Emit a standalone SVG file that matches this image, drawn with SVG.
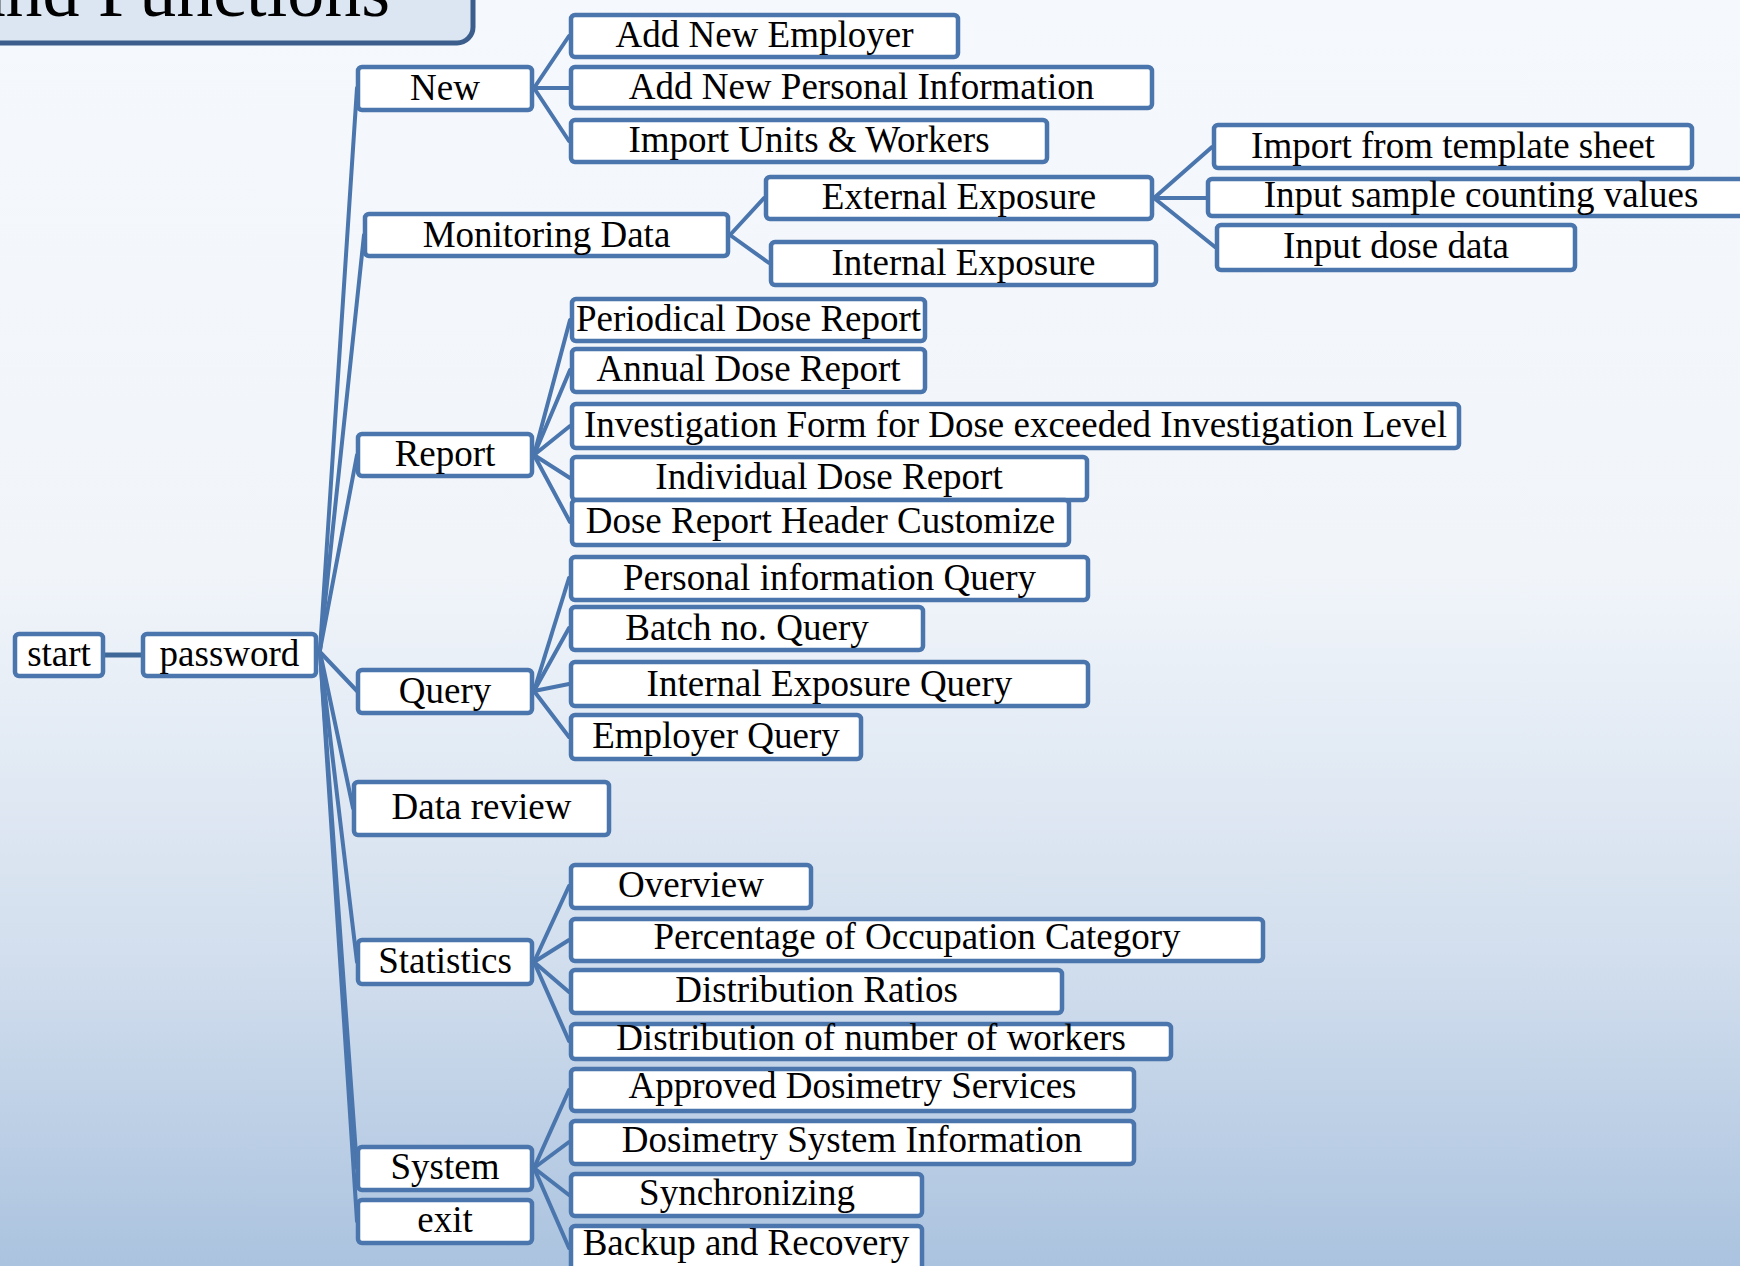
<svg xmlns="http://www.w3.org/2000/svg" width="1740" height="1266" viewBox="0 0 1740 1266">
<defs>
<linearGradient id="bg" x1="0" y1="0" x2="0" y2="1">
<stop offset="0" stop-color="#f5f8fc"/>
<stop offset="0.45" stop-color="#f1f5fa"/>
<stop offset="0.75" stop-color="#d3dfee"/>
<stop offset="1" stop-color="#abc3df"/>
</linearGradient>
<style>
.n rect{fill:#ffffff;stroke:#4a76ad;stroke-width:4.5}
.n text{font-family:"Liberation Serif","Times New Roman",serif;font-size:37px;fill:#000;text-anchor:middle}
#connectors line{stroke:#4a76ad;stroke-width:4;stroke-linecap:round}
</style>
</defs>
<rect x="0" y="0" width="1740" height="1266" fill="url(#bg)"/>
<g id="title">
<rect x="-20" y="-60" width="493" height="103" rx="16" fill="#dce6f2" stroke="#3b5e8c" stroke-width="5"/>
<text x="390" y="16" font-family="'Liberation Serif','Times New Roman',serif" font-size="74" text-anchor="end" fill="#000">and Functions</text>
</g>
<g id="connectors">
<line x1="105" y1="655" x2="141" y2="655" style="stroke:#3f6898;stroke-width:5"/>
<line x1="320" y1="650" x2="357" y2="88"/>
<line x1="320" y1="650" x2="364" y2="235"/>
<line x1="320" y1="650" x2="357" y2="455"/>
<line x1="320" y1="652" x2="357" y2="691"/>
<line x1="320" y1="652" x2="353" y2="808"/>
<line x1="320" y1="652" x2="357" y2="962"/>
<line x1="320" y1="652" x2="357" y2="1168"/>
<line x1="320" y1="652" x2="357" y2="1221"/>
<line x1="534" y1="88" x2="569" y2="36"/>
<line x1="534" y1="88" x2="569" y2="88"/>
<line x1="534" y1="88" x2="569" y2="141"/>
<line x1="730" y1="235" x2="764" y2="198"/>
<line x1="730" y1="235" x2="769" y2="263"/>
<line x1="1154" y1="198" x2="1212" y2="147"/>
<line x1="1154" y1="198" x2="1206" y2="198"/>
<line x1="1154" y1="198" x2="1215" y2="247"/>
<line x1="534" y1="455" x2="570" y2="320"/>
<line x1="534" y1="455" x2="570" y2="370"/>
<line x1="534" y1="455" x2="570" y2="426"/>
<line x1="534" y1="455" x2="570" y2="478"/>
<line x1="534" y1="455" x2="570" y2="522"/>
<line x1="534" y1="691" x2="569" y2="578"/>
<line x1="534" y1="691" x2="569" y2="628"/>
<line x1="534" y1="691" x2="569" y2="684"/>
<line x1="534" y1="691" x2="569" y2="737"/>
<line x1="534" y1="962" x2="569" y2="886"/>
<line x1="534" y1="962" x2="569" y2="940"/>
<line x1="534" y1="962" x2="569" y2="992"/>
<line x1="534" y1="962" x2="569" y2="1041"/>
<line x1="534" y1="1168" x2="569" y2="1090"/>
<line x1="534" y1="1168" x2="569" y2="1142"/>
<line x1="534" y1="1168" x2="569" y2="1195"/>
<line x1="534" y1="1168" x2="569" y2="1248"/>
</g>
<g id="start" class="n"><rect x="15" y="634" width="88" height="42" rx="4"/><text x="59" y="666">start</text></g>
<g id="password" class="n"><rect x="143" y="634" width="173" height="42" rx="4"/><text x="229.5" y="666">password</text></g>
<g id="new" class="n"><rect x="358" y="67" width="174" height="43" rx="4"/><text x="445" y="100">New</text></g>
<g id="monitoring" class="n"><rect x="365" y="214" width="363" height="42" rx="4"/><text x="546.5" y="246.5">Monitoring Data</text></g>
<g id="report" class="n"><rect x="358" y="434" width="174" height="42" rx="4"/><text x="445" y="466">Report</text></g>
<g id="query" class="n"><rect x="358" y="670" width="174" height="43" rx="4"/><text x="445" y="703">Query</text></g>
<g id="datareview" class="n"><rect x="354" y="782" width="255" height="53" rx="4"/><text x="481.5" y="819">Data review</text></g>
<g id="statistics" class="n"><rect x="358" y="940" width="174" height="44" rx="4"/><text x="445" y="973">Statistics</text></g>
<g id="system" class="n"><rect x="358" y="1147" width="174" height="43" rx="4"/><text x="445" y="1179">System</text></g>
<g id="exit" class="n"><rect x="358" y="1200" width="174" height="43" rx="4"/><text x="445" y="1232">exit</text></g>
<g id="addemployer" class="n"><rect x="571" y="15" width="387" height="42" rx="4"/><text x="764.5" y="47">Add New Employer</text></g>
<g id="addpersonal" class="n"><rect x="571" y="67" width="581" height="41" rx="4"/><text x="861.5" y="99">Add New Personal Information</text></g>
<g id="importunits" class="n"><rect x="571" y="120" width="476" height="42" rx="4"/><text x="809" y="152">Import Units &amp; Workers</text></g>
<g id="external" class="n"><rect x="766" y="177" width="386" height="42" rx="4"/><text x="959" y="208.5">External Exposure</text></g>
<g id="internal" class="n"><rect x="771" y="242" width="385" height="43" rx="4"/><text x="963.5" y="274.5">Internal Exposure</text></g>
<g id="importtemplate" class="n"><rect x="1214" y="125" width="478" height="43" rx="4"/><text x="1453" y="157.5">Import from template sheet</text></g>
<g id="inputsample" class="n"><rect x="1208" y="179" width="560" height="37" rx="4"/><text x="1481" y="207">Input sample counting values</text></g>
<g id="inputdose" class="n"><rect x="1217" y="225" width="358" height="45" rx="4"/><text x="1396" y="257.5">Input dose data</text></g>
<g id="periodical" class="n"><rect x="572" y="299" width="353" height="42" rx="4"/><text x="748.5" y="330.5">Periodical Dose Report</text></g>
<g id="annual" class="n"><rect x="572" y="349" width="353" height="43" rx="4"/><text x="748.5" y="381">Annual Dose Report</text></g>
<g id="investigation" class="n"><rect x="572" y="404" width="887" height="44" rx="4"/><text x="1015.5" y="437">Investigation Form for Dose exceeded Investigation Level</text></g>
<g id="individual" class="n"><rect x="572" y="457" width="515" height="43" rx="4"/><text x="829" y="489">Individual Dose Report</text></g>
<g id="header" class="n"><rect x="572" y="500" width="497" height="45" rx="4"/><text x="820.5" y="533">Dose Report Header Customize</text></g>
<g id="personalquery" class="n"><rect x="571" y="557" width="517" height="43" rx="4"/><text x="829.5" y="590">Personal information Query</text></g>
<g id="batchquery" class="n"><rect x="571" y="607" width="352" height="43" rx="4"/><text x="747" y="640">Batch no. Query</text></g>
<g id="internalquery" class="n"><rect x="571" y="662" width="517" height="44" rx="4"/><text x="829.5" y="695.5">Internal Exposure Query</text></g>
<g id="employerquery" class="n"><rect x="571" y="715" width="290" height="44" rx="4"/><text x="716" y="748">Employer Query</text></g>
<g id="overview" class="n"><rect x="571" y="865" width="240" height="43" rx="4"/><text x="691" y="897">Overview</text></g>
<g id="percentage" class="n"><rect x="571" y="919" width="692" height="42" rx="4"/><text x="917" y="949">Percentage of Occupation Category</text></g>
<g id="ratios" class="n"><rect x="571" y="970" width="491" height="43" rx="4"/><text x="816.5" y="1001.5">Distribution Ratios</text></g>
<g id="workers" class="n"><rect x="571" y="1024" width="600" height="35" rx="4"/><text x="871" y="1050">Distribution of number of workers</text></g>
<g id="approved" class="n"><rect x="571" y="1069" width="563" height="42" rx="4"/><text x="852.5" y="1098">Approved Dosimetry Services</text></g>
<g id="dosinfo" class="n"><rect x="571" y="1121" width="563" height="43" rx="4"/><text x="852" y="1151.5">Dosimetry System Information</text></g>
<g id="sync" class="n"><rect x="571" y="1174" width="351" height="42" rx="4"/><text x="747" y="1205">Synchronizing</text></g>
<g id="backup" class="n"><rect x="571" y="1226" width="351" height="60" rx="4"/><text x="746" y="1255">Backup and Recovery</text></g>
</svg>
